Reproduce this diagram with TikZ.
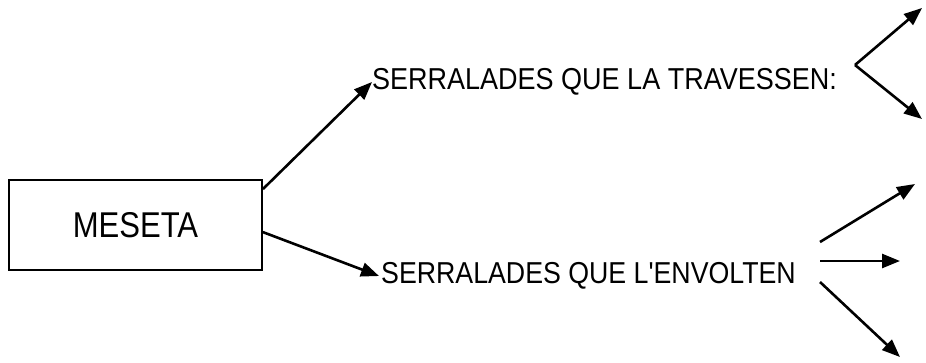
\documentclass[tikz,border=0pt]{standalone}
\usepackage{fontspec}
\setmainfont{Liberation Sans}
\usetikzlibrary{arrows.meta}
\begin{document}
\begin{tikzpicture}[x=1pt,y=-1pt,
  conn/.style={line width=2.6pt,-{Triangle[length=18pt,width=14pt]}},
  mainbox/.style={draw,line width=1.8pt,minimum width=253pt,minimum height=90pt,inner sep=0pt,font=\fontsize{32}{32}\selectfont},
  lbl/.style={inner sep=0pt,anchor=west,font=\fontsize{27}{27}\selectfont}]
\useasboundingbox (0,0) rectangle (926,362);
\node[mainbox] (meseta) at (135.5,225) {\scalebox{0.97}[1.12]{MESETA}};
\node[lbl] (t1) at (372,82) {\scalebox{1}[1.12]{SERRALADES QUE LA TRAVESSEN:}};
\node[lbl] (t2) at (381,276) {\scalebox{0.99}[1.12]{SERRALADES QUE L\textquotesingle ENVOLTEN}};
% bracket
\coordinate (v) at (855,65);
\coordinate (b1) at (922,8);
\coordinate (b2) at (922,119);
% fan starts and tips
\coordinate (s1) at (820,242);
\coordinate (e1) at (915,184);
\coordinate (s2) at (820,261);
\coordinate (e2) at (900,261);
\coordinate (s3) at (820,282);
\coordinate (e3) at (900,357);
\draw[conn] ([yshift=-10pt]meseta.north east) -- (t1.west);
\draw[conn] ([yshift=-53pt]meseta.north east) -- ([xshift=-2pt]t2.west);
\draw[conn] (v) -- (b1);
\draw[conn] (v) -- (b2);
\draw[conn] (s1) -- (e1);
\draw[conn] (s2) -- (e2);
\draw[conn] (s3) -- (e3);
\end{tikzpicture}
\end{document}
